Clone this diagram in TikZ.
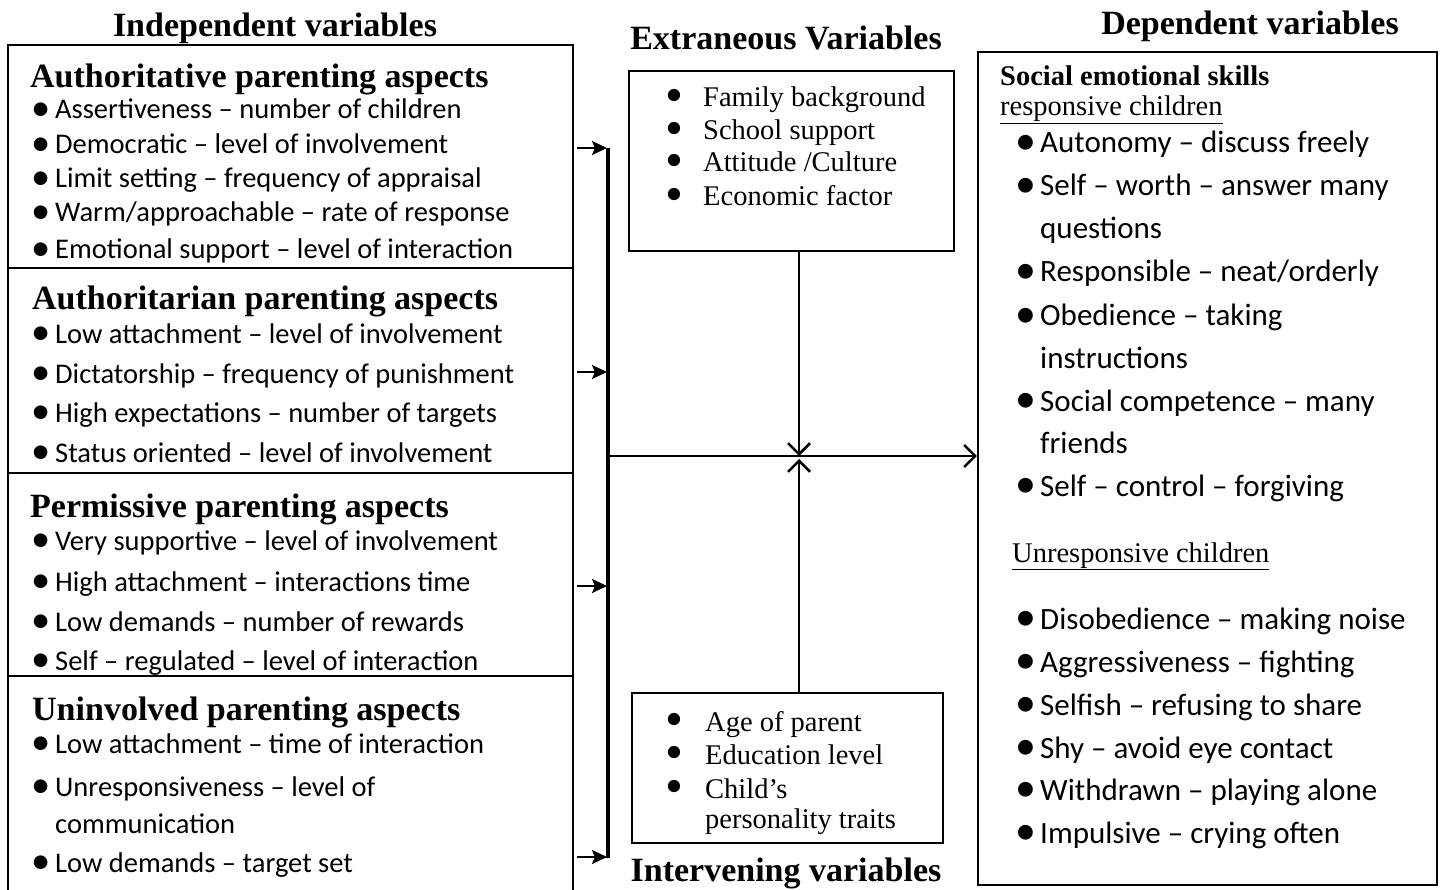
\documentclass[tikz,border=0pt]{standalone}
\usepackage{fontspec}
\setmainfont{Liberation Serif}
\newfontfamily\calf{Carlito}[Ligatures=TeX]
\usetikzlibrary{arrows.meta}
\newcommand\bul{\smash{\raisebox{-0.04em}{\scalebox{1.35}{\textbullet}}}}
\newcommand\sbul{\smash{\raisebox{-0.2em}{\scalebox{1.8}{\textbullet}}}}
\newcommand\bls[4]{\node[lt,anchor=base west] (#1) at (31,#2) {\makebox[24pt][l]{\bul}#4};}
\newcommand\brs[3]{\node[rt,anchor=base west] (#1) at (1015,#2) {\makebox[25pt][l]{\bul}#3};}
\begin{document}
\begin{tikzpicture}[x=1pt,y=-1pt,
  box/.style={draw,line width=2.2pt,inner sep=0pt},
  hd/.style={font=\bfseries\fontsize{34}{38}\selectfont,inner sep=0pt},
  lt/.style={font=\calf\fontsize{28.5}{32}\selectfont,inner sep=0pt},
  rt/.style={font=\calf\fontsize{31}{34}\selectfont,inner sep=0pt},
  st/.style={font=\fontsize{28.5}{32}\selectfont,inner sep=0pt},
  sb/.style={font=\bfseries\fontsize{28.5}{32}\selectfont,inner sep=0pt},
  arrl/.style={line width=2.3pt,-{Stealth[length=15pt,width=14pt,inset=3pt]}},
  arrv/.style={line width=2.5pt,-{Straight Barb[length=11pt,width=22pt,line width=2.5pt]}},
  bus/.style={line width=3.5pt}]
\useasboundingbox (0,0) rectangle (1442,890);
\fill[white] (0,0) rectangle (1442,890);

% titles
\node[hd] (tind) at (275,28) {Independent variables};
\node[hd] (text) at (786,38) {Extraneous Variables};
\node[hd] (tdep) at (1250,26) {Dependent variables};
\node[hd] (tint) at (786,873) {Intervening variables};

% left sections
\node[box,minimum width=565pt,minimum height=223pt] (sec1) at (290.5,156.5) {};
\node[box,minimum width=565pt,minimum height=205pt] (sec2) at (290.5,370.5) {};
\node[box,minimum width=565pt,minimum height=203pt] (sec3) at (290.5,574.5) {};
\node[box,minimum width=565pt,minimum height=230pt] (sec4) at (290.5,791) {};

\node[hd,anchor=base west] (h1) at (30,88) {Authoritative parenting aspects};
\bls{a1}{119}{}{Assertiveness -- number of children}
\bls{a2}{154}{}{Democratic -- level of involvement}
\bls{a3}{188}{}{Limit setting -- frequency of appraisal}
\bls{a4}{222}{}{Warm/approachable -- rate of response}
\bls{a5}{259}{}{Emotional support -- level of interaction}

\node[hd,anchor=base west] (h2) at (32,309) {Authoritarian parenting aspects};
\bls{b1}{343}{}{Low attachment -- level of involvement}
\bls{b2}{383}{}{Dictatorship -- frequency of punishment}
\bls{b3}{422}{}{High expectations -- number of targets}
\bls{b4}{462}{}{Status oriented -- level of involvement}

\node[hd,anchor=base west] (h3) at (30,517) {Permissive parenting aspects};
\bls{c1}{550}{}{Very supportive -- level of involvement}
\bls{c2}{591}{}{High attachment -- interactions time}
\bls{c3}{631}{}{Low demands -- number of rewards}
\bls{c4}{670}{}{Self -- regulated -- level of interaction}

\node[hd,anchor=base west] (h4) at (32,720) {Uninvolved parenting aspects};
\bls{d1}{753}{}{Low attachment -- time of interaction}
\bls{d2}{796}{}{Unresponsiveness -- level of}
\node[lt,anchor=base west] (d2b) at (55,833) {communication};
\bls{d3}{872}{}{Low demands -- target set}

% extraneous box
\node[box,minimum width=325pt,minimum height=180pt] (ext) at (791.5,161) {};
\node[st,anchor=base west] (e1) at (665,107) {\makebox[38pt][l]{\sbul}Family background};
\node[st,anchor=base west] (e2) at (665,140) {\makebox[38pt][l]{\sbul}School support};
\node[st,anchor=base west] (e3) at (665,172) {\makebox[38pt][l]{\sbul}Attitude /Culture};
\node[st,anchor=base west] (e4) at (665,206) {\makebox[38pt][l]{\sbul}Economic factor};

% intervening box
\node[box,minimum width=311pt,minimum height=150pt] (int) at (787.5,768) {};
\node[st,anchor=base west] (i1) at (665,731) {\makebox[40pt][l]{\sbul}Age of parent};
\node[st,anchor=base west] (i2) at (665,764) {\makebox[40pt][l]{\sbul}Education level};
\node[st,anchor=base west] (i3) at (665,798) {\makebox[40pt][l]{\sbul}Child's};
\node[st,anchor=base west] (i3b) at (705,828) {personality traits};

% dependent box
\node[box,minimum width=459pt,minimum height=833pt] (dep) at (1207.5,468.5) {};
\node[sb,anchor=base west] (s0) at (1000,86) {Social emotional skills};
\node[st,anchor=base west] (s1) at (1000,116) {\underline{responsive children}};
\brs{r1}{153}{Autonomy -- discuss freely}
\brs{r2}{196}{Self -- worth -- answer many}
\node[rt,anchor=base west] (r2b) at (1040,239) {questions};
\brs{r3}{282}{Responsible -- neat/orderly}
\brs{r4}{326}{Obedience -- taking}
\node[rt,anchor=base west] (r4b) at (1040,368) {instructions};
\brs{r5}{411}{Social competence -- many}
\node[rt,anchor=base west] (r5b) at (1040,453) {friends};
\brs{r6}{496}{Self -- control -- forgiving}
\node[st,anchor=base west] (u0) at (1012,562) {\underline{Unresponsive children}};
\brs{u1}{629}{Disobedience -- making noise}
\brs{u2}{672}{Aggressiveness -- fighting}
\brs{u3}{715}{Selfish -- refusing to share}
\brs{u4}{758}{Shy -- avoid eye contact}
\brs{u5}{800}{Withdrawn -- playing alone}
\brs{u6}{843}{Impulsive -- crying often}

% connectors
\coordinate (p1) at (577,148);
\coordinate (p2) at (577,372);
\coordinate (p3) at (577,586);
\coordinate (p4) at (577,857);
\coordinate (q1) at (607,148);
\coordinate (q2) at (607,372);
\coordinate (q3) at (607,586);
\coordinate (q4) at (607,857);
\coordinate (b1) at (608,148);
\coordinate (b4) at (608,858);
\coordinate (qm) at (608,456);
\coordinate (cr) at (799,456);
\coordinate (crb) at (799,459);
\draw[bus] (b1) -- (b4);
\draw[arrl] (p1) -- (q1);
\draw[arrl] (p2) -- (q2);
\draw[arrl] (p3) -- (q3);
\draw[arrl] (p4) -- (q4);
\draw[arrv] (qm) -- (dep.west |- qm);
\draw[arrv] (ext.south -| cr) -- (cr);
\draw[arrv] (int.north -| crb) -- (crb);
\end{tikzpicture}
\end{document}
